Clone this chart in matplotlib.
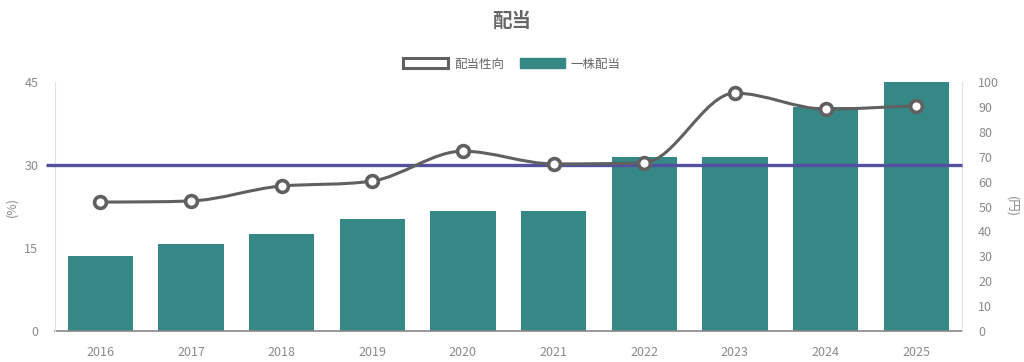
import numpy as np
import matplotlib
matplotlib.use("Agg")
import matplotlib.pyplot as plt
from matplotlib.path import Path
from matplotlib.patches import PathPatch, Patch

plt.rcParams['font.family'] = ['Noto Sans CJK JP', 'DejaVu Sans']

# data
years = ['2016', '2017', '2018', '2019', '2020', '2021', '2022', '2023', '2024', '2025']
dividend = [30, 35, 39, 45, 48, 48, 70, 70, 90, 100]          # 一株配当 (円)
payout = [23.3, 23.5, 26.2, 27.1, 32.5, 30.2, 30.4, 43.0, 40.1, 40.7]  # 配当性向 (%)
target = 30

teal = '#358886'
gray_line = '#606060'
blue = '#5450a0'
tick_col = '#8a8a8a'

fig = plt.figure(figsize=(10.24, 3.62), dpi=100)
fig.subplots_adjust(left=0.0537, right=0.939, bottom=0.0856, top=0.7735)

# bars on the primary axes (yen), shown on the right
ax = fig.add_subplot(111)
ax2 = ax.twinx()
x = np.arange(len(years))
ax.bar(x, dividend, width=0.72, color=teal, zorder=2)
ax.set_xlim(-0.5, len(years) - 0.5)
ax.set_ylim(0, 100)
ax.set_yticks(np.arange(0, 101, 10))
ax.yaxis.tick_right()
ax.yaxis.set_label_position('right')
ax.set_ylabel('(円)', color=tick_col, fontsize=9, rotation=270, va='center')
ax.yaxis.set_label_coords(1.055, 0.5)
ax.set_xticks(x)
ax.set_xticklabels(years)
ax.tick_params(axis='x', length=0, pad=11, labelsize=9, colors=tick_col)
ax.tick_params(axis='y', length=0, pad=12, labelsize=9, colors=tick_col)
for s in ['top', 'left', 'right']:
    ax.spines[s].set_visible(False)
ax.spines['bottom'].set_color('#888888')
ax.spines['bottom'].set_linewidth(1.2)

# payout ratio on the twin (%), shown on the left
ax2.set_ylim(0, 45)
ax2.set_yticks([0, 15, 30, 45])
ax2.yaxis.tick_left()
ax2.yaxis.set_label_position('left')
ax2.set_ylabel('(%)', color=tick_col, fontsize=9, va='center')
ax2.yaxis.set_label_coords(-0.047, 0.5)
ax2.tick_params(axis='y', length=0, pad=12, labelsize=9, colors=tick_col)
ax2.spines['top'].set_visible(False)
ax2.spines['bottom'].set_visible(False)
ax2.spines['left'].set_color('#e2e2e2')
ax2.spines['right'].set_color('#e2e2e2')

# 30% target line
ax2.plot([-0.6, len(years) - 0.5], [target, target], color=blue, lw=2.4,
         clip_on=False, zorder=3, solid_capstyle='butt')

# monotone cubic line through the points
xs = x.astype(float)
ys = np.array(payout, dtype=float)
n = len(xs)
dk = np.diff(ys) / np.diff(xs)
mk = np.zeros(n)
mk[0] = dk[0]
mk[-1] = dk[-1]
for i in range(1, n - 1):
    mk[i] = 0 if dk[i - 1] * dk[i] <= 0 else (dk[i - 1] + dk[i]) / 2
for i in range(n - 1):
    if dk[i] == 0:
        mk[i] = mk[i + 1] = 0
        continue
    a = mk[i] / dk[i]
    b = mk[i + 1] / dk[i]
    tau = a * a + b * b
    if tau > 9:
        s = 3 / np.sqrt(tau)
        mk[i] = a * s * dk[i]
        mk[i + 1] = b * s * dk[i]
verts = [(xs[0], ys[0])]
codes = [Path.MOVETO]
for i in range(n - 1):
    dx = (xs[i + 1] - xs[i]) / 3
    verts += [(xs[i] + dx, ys[i] + mk[i] * dx),
              (xs[i + 1] - dx, ys[i + 1] - mk[i + 1] * dx),
              (xs[i + 1], ys[i + 1])]
    codes += [Path.CURVE4] * 3
ax2.add_patch(PathPatch(Path(verts, codes), facecolor='none', edgecolor=gray_line,
                        lw=2.2, zorder=4))
ax2.plot(x, payout, linestyle='none', marker='o', markersize=8.5,
         markerfacecolor='white', markeredgecolor=gray_line, markeredgewidth=2.6,
         zorder=5)

# title and legend
fig.text(0.5, 0.94, '配当', ha='center', va='center', fontsize=14,
         fontweight='bold', color='#666666')
handles = [Patch(facecolor='white', edgecolor=gray_line, linewidth=2.2),
           Patch(facecolor=teal, edgecolor=teal)]
fig.legend(handles, ['配当性向', '一株配当'], loc='center', bbox_to_anchor=(0.5, 0.823),
           ncol=2, frameon=False, fontsize=9, labelcolor='#666666',
           handlelength=3.6, handleheight=0.9, handletextpad=0.5, columnspacing=1.2)

fig.savefig('out.png', dpi=100)
